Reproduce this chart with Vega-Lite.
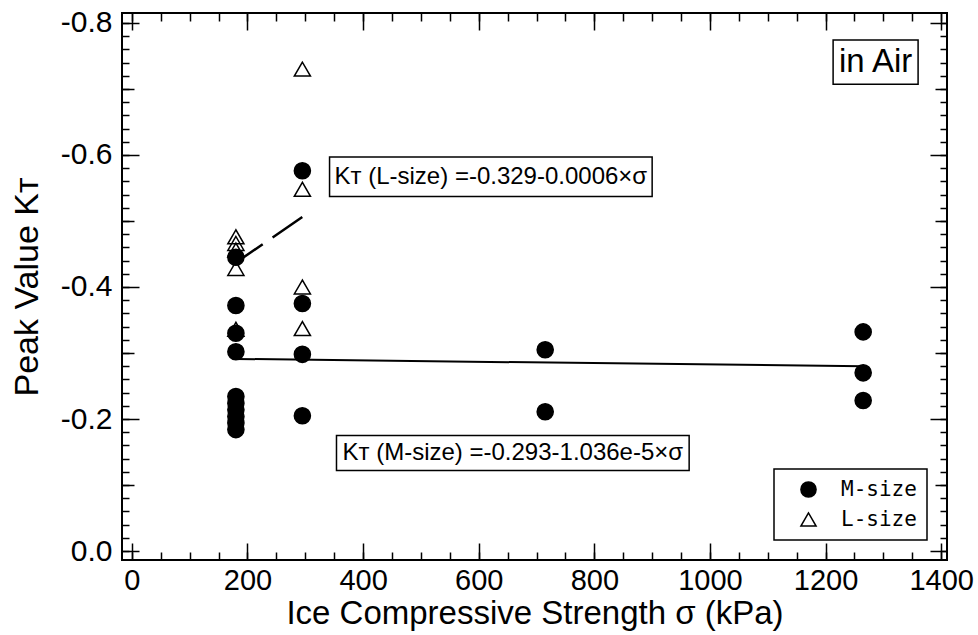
{
  "$schema": "https://vega.github.io/schema/vega-lite/v6.json",
  "width": 825,
  "height": 547,
  "autosize": "none",
  "padding": {"left": 122, "top": 13, "right": 31, "bottom": 75},
  "background": "white",
  "config": {
    "view": {"stroke": "black", "strokeWidth": 2},
    "font": "Liberation Sans",
    "axis": {
      "grid": false,
      "domain": false,
      "tickColor": "black",
      "tickWidth": 1.5,
      "labelColor": "black",
      "titleColor": "black",
      "labelFont": "Liberation Sans",
      "titleFont": "Liberation Sans",
      "titleFontWeight": "normal"
    },
    "legend": {
      "orient": "bottom-right",
      "offset": 20,
      "strokeColor": "black",
      "strokeWidth": 1.5,
      "fillColor": "white",
      "padding": 10,
      "labelFont": "DejaVu Sans Mono",
      "labelFontSize": 21,
      "labelColor": "black",
      "symbolSize": 230,
      "symbolStrokeColor": "black",
      "symbolStrokeWidth": 1.5,
      "rowPadding": 7,
      "labelOffset": 22,
      "symbolOffset": 14
    }
  },
  "datasets": {
    "readings": [
      {"sigma": 180, "kt": -0.476, "series": "L-size"},
      {"sigma": 180, "kt": -0.466, "series": "L-size"},
      {"sigma": 180, "kt": -0.456, "series": "L-size"},
      {"sigma": 180, "kt": -0.428, "series": "L-size"},
      {"sigma": 180, "kt": -0.336, "series": "L-size"},
      {"sigma": 295, "kt": -0.730, "series": "L-size"},
      {"sigma": 295, "kt": -0.548, "series": "L-size"},
      {"sigma": 295, "kt": -0.400, "series": "L-size"},
      {"sigma": 295, "kt": -0.337, "series": "L-size"},
      {"sigma": 180, "kt": -0.445, "series": "M-size"},
      {"sigma": 180, "kt": -0.372, "series": "M-size"},
      {"sigma": 180, "kt": -0.330, "series": "M-size"},
      {"sigma": 180, "kt": -0.302, "series": "M-size"},
      {"sigma": 180, "kt": -0.234, "series": "M-size"},
      {"sigma": 180, "kt": -0.224, "series": "M-size"},
      {"sigma": 180, "kt": -0.214, "series": "M-size"},
      {"sigma": 180, "kt": -0.204, "series": "M-size"},
      {"sigma": 180, "kt": -0.194, "series": "M-size"},
      {"sigma": 180, "kt": -0.184, "series": "M-size"},
      {"sigma": 295, "kt": -0.576, "series": "M-size"},
      {"sigma": 295, "kt": -0.375, "series": "M-size"},
      {"sigma": 295, "kt": -0.298, "series": "M-size"},
      {"sigma": 295, "kt": -0.205, "series": "M-size"},
      {"sigma": 715, "kt": -0.305, "series": "M-size"},
      {"sigma": 715, "kt": -0.211, "series": "M-size"},
      {"sigma": 1265, "kt": -0.332, "series": "M-size"},
      {"sigma": 1265, "kt": -0.270, "series": "M-size"},
      {"sigma": 1265, "kt": -0.228, "series": "M-size"}
    ],
    "fitM": [
      {"sigma": 180, "kt": -0.2911},
      {"sigma": 1265, "kt": -0.2799}
    ],
    "fitL": [
      {"sigma": 175, "kt": -0.434},
      {"sigma": 305, "kt": -0.512}
    ],
    "notes": [
      {"label": "Kᴛ (L-size) =-0.329-0.0006×σ", "x0": 342, "x1": 900, "y0": -0.597, "y1": -0.537},
      {"label": "Kᴛ (M-size) =-0.293-1.036e-5×σ", "x0": 354, "x1": 964, "y0": -0.175, "y1": -0.122},
      {"label": "in Air", "x0": 1213, "x1": 1360, "y0": -0.774, "y1": -0.707}
    ]
  },
  "layer": [
    {
      "data": {"name": "fitM"},
      "mark": {"type": "line", "color": "black", "strokeWidth": 2},
      "encoding": {
        "x": {
          "field": "sigma", "type": "quantitative",
          "scale": {"domain": [-17, 1410], "nice": false, "zero": false},
          "axis": {
            "orient": "bottom",
            "values": [0, 200, 400, 600, 800, 1000, 1200, 1400],
            "format": "d",
            "ticks": false,
            "labelFontSize": 29,
            "labelPadding": 6,
            "title": "Ice Compressive Strength σ (kPa)",
            "titleFontSize": 33,
            "titlePadding": 2
          }
        },
        "y": {
          "field": "kt", "type": "quantitative",
          "scale": {"domain": [-0.815, 0.0135], "reverse": true, "nice": false, "zero": false},
          "axis": {
            "orient": "left",
            "values": [-0.8, -0.6, -0.4, -0.2, 0],
            "ticks": false,
            "labelExpr": "replace(format(datum.value, '.1f'), '−', '-')",
            "labelFontSize": 30,
            "labelPadding": 10,
            "title": "Peak Value Kᴛ",
            "titleFontSize": 34,
            "titlePadding": 16
          }
        }
      }
    },
    {
      "data": {"name": "fitL"},
      "mark": {"type": "line", "color": "black", "strokeWidth": 2.5, "strokeDash": [36, 12]},
      "encoding": {
        "x": {
          "field": "sigma", "type": "quantitative",
          "scale": {"domain": [-17, 1410], "nice": false, "zero": false},
          "axis": {"orient": "bottom", "values": [0, 200, 400, 600, 800, 1000, 1200, 1400], "labels": false, "tickSize": 17, "offset": -17, "title": null}
        },
        "y": {
          "field": "kt", "type": "quantitative",
          "scale": {"domain": [-0.815, 0.0135], "reverse": true, "nice": false, "zero": false},
          "axis": {"orient": "left", "values": [-0.8, -0.6, -0.4, -0.2, 0], "labels": false, "tickSize": 17, "offset": -17, "title": null}
        }
      }
    },
    {
      "data": {"name": "readings"},
      "mark": {"type": "point", "strokeWidth": 1.5, "size": 260, "opacity": 1},
      "encoding": {
        "x": {
          "field": "sigma", "type": "quantitative",
          "scale": {"domain": [-17, 1410], "nice": false, "zero": false},
          "axis": {"orient": "bottom", "values": [0,50,100,150,200,250,300,350,400,450,500,550,600,650,700,750,800,850,900,950,1000,1050,1100,1150,1200,1250,1300,1350,1400], "labels": false, "tickSize": 8, "offset": -8, "title": null}
        },
        "y": {
          "field": "kt", "type": "quantitative",
          "scale": {"domain": [-0.815, 0.0135], "reverse": true, "nice": false, "zero": false},
          "axis": {"orient": "left", "values": [-0.8,-0.78,-0.76,-0.74,-0.72,-0.7,-0.68,-0.66,-0.64,-0.62,-0.6,-0.58,-0.56,-0.54,-0.52,-0.5,-0.48,-0.46,-0.44,-0.42,-0.4,-0.38,-0.36,-0.34,-0.32,-0.3,-0.28,-0.26,-0.24,-0.22,-0.2,-0.18,-0.16,-0.14,-0.12,-0.1,-0.08,-0.06,-0.04,-0.02,0], "labels": false, "tickSize": 7, "offset": -7, "title": null}
        },
        "shape": {
          "field": "series", "type": "nominal",
          "scale": {"domain": ["M-size", "L-size"], "range": ["circle", "triangle-up"]},
          "legend": {"title": null}
        },
        "fill": {
          "field": "series", "type": "nominal",
          "scale": {"domain": ["M-size", "L-size"], "range": ["black", "transparent"]},
          "legend": {"title": null}
        },
        "stroke": {
          "field": "series", "type": "nominal",
          "scale": {"domain": ["M-size", "L-size"], "range": ["black", "black"]},
          "legend": {"title": null}
        }
      }
    },
    {
      "data": {"name": "notes"},
      "mark": {"type": "rect", "fill": "white", "stroke": "black", "strokeWidth": 1.5},
      "encoding": {
        "x": {
          "field": "x0", "type": "quantitative",
          "scale": {"domain": [-17, 1410], "nice": false, "zero": false},
          "axis": {"orient": "top", "values": [0, 200, 400, 600, 800, 1000, 1200, 1400], "labels": false, "tickSize": 17, "offset": -17, "title": null}
        },
        "x2": {"field": "x1"},
        "y": {
          "field": "y0", "type": "quantitative",
          "scale": {"domain": [-0.815, 0.0135], "reverse": true, "nice": false, "zero": false},
          "axis": {"orient": "right", "values": [-0.8, -0.6, -0.4, -0.2, 0], "labels": false, "tickSize": 17, "offset": -17, "title": null}
        },
        "y2": {"field": "y1"}
      }
    },
    {
      "data": {"name": "notes"},
      "transform": [
        {"calculate": "(datum.x0 + datum.x1) / 2", "as": "xm"},
        {"calculate": "(datum.y0 + datum.y1) / 2", "as": "ym"}
      ],
      "mark": {"type": "text", "color": "black", "align": "center", "baseline": "middle", "font": "Liberation Sans"},
      "encoding": {
        "x": {
          "field": "xm", "type": "quantitative",
          "scale": {"domain": [-17, 1410], "nice": false, "zero": false},
          "axis": {"orient": "top", "values": [0,50,100,150,200,250,300,350,400,450,500,550,600,650,700,750,800,850,900,950,1000,1050,1100,1150,1200,1250,1300,1350,1400], "labels": false, "tickSize": 8, "offset": -8, "title": null}
        },
        "y": {
          "field": "ym", "type": "quantitative",
          "scale": {"domain": [-0.815, 0.0135], "reverse": true, "nice": false, "zero": false},
          "axis": {"orient": "right", "values": [-0.8,-0.78,-0.76,-0.74,-0.72,-0.7,-0.68,-0.66,-0.64,-0.62,-0.6,-0.58,-0.56,-0.54,-0.52,-0.5,-0.48,-0.46,-0.44,-0.42,-0.4,-0.38,-0.36,-0.34,-0.32,-0.3,-0.28,-0.26,-0.24,-0.22,-0.2,-0.18,-0.16,-0.14,-0.12,-0.1,-0.08,-0.06,-0.04,-0.02,0], "labels": false, "tickSize": 7, "offset": -7, "title": null}
        },
        "text": {"field": "label"},
        "size": {"condition": {"test": "datum.label === 'in Air'", "value": 33}, "value": 24}
      }
    },
    {
      "data": {"name": "fitM"},
      "mark": {"type": "point", "opacity": 0},
      "encoding": {
        "x": {"field": "sigma", "type": "quantitative", "scale": {"domain": [-17, 1410], "nice": false, "zero": false}, "axis": null},
        "y": {
          "field": "kt", "type": "quantitative",
          "scale": {"domain": [-0.815, 0.0135], "reverse": true, "nice": false, "zero": false},
          "axis": {"orient": "left", "values": [-0.7, -0.5, -0.3, -0.1], "labels": false, "tickSize": 12, "offset": -12, "title": null}
        }
      }
    },
    {
      "data": {"name": "fitM"},
      "mark": {"type": "point", "opacity": 0},
      "encoding": {
        "x": {"field": "sigma", "type": "quantitative", "scale": {"domain": [-17, 1410], "nice": false, "zero": false}, "axis": null},
        "y": {
          "field": "kt", "type": "quantitative",
          "scale": {"domain": [-0.815, 0.0135], "reverse": true, "nice": false, "zero": false},
          "axis": {"orient": "right", "values": [-0.7, -0.5, -0.3, -0.1], "labels": false, "tickSize": 12, "offset": -12, "title": null}
        }
      }
    }
  ],
  "resolve": {"axis": {"x": "independent", "y": "independent"}}
}
